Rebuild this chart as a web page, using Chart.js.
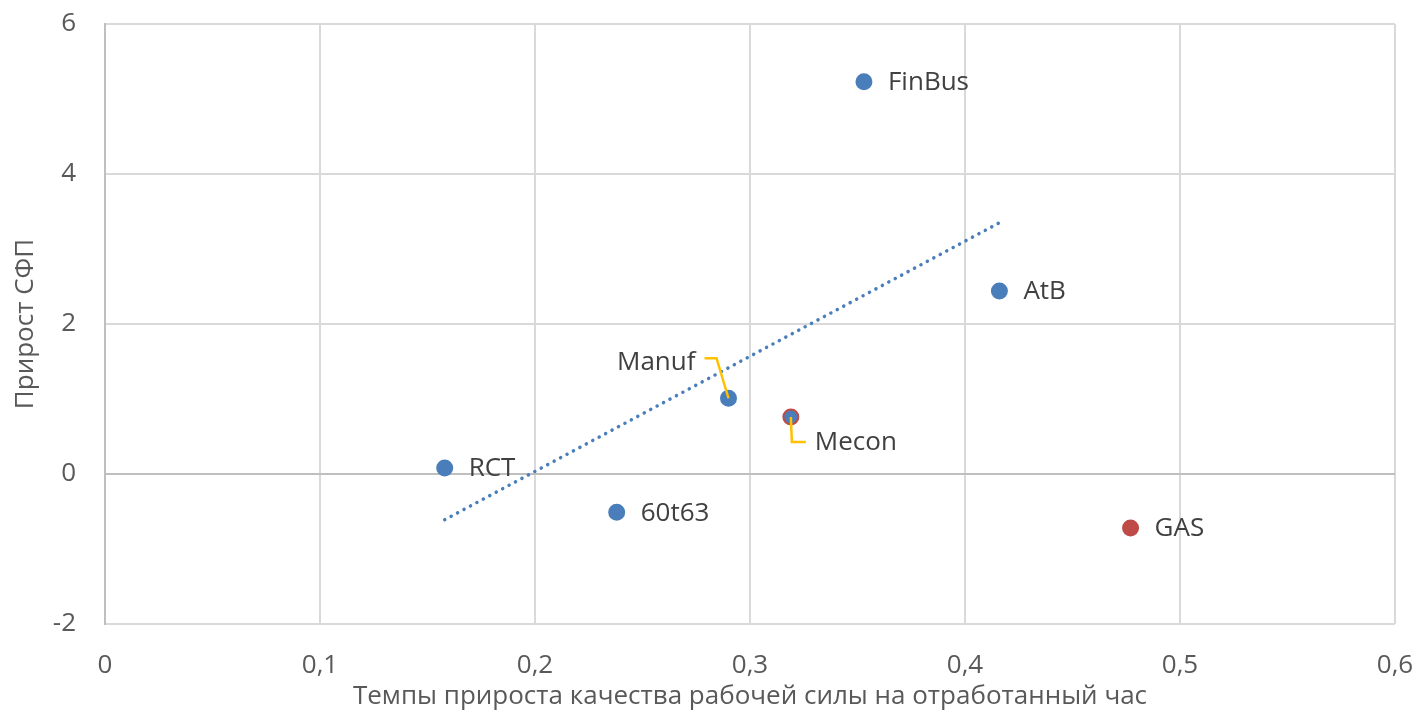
<!DOCTYPE html>
<html>
<head>
<meta charset="utf-8">
<script src="https://cdn.jsdelivr.net/npm/chart.js@4"></script>
<style>
  html, body { margin: 0; padding: 0; background: #fff; }
  #wrap { width: 1419px; height: 712px; }
</style>
</head>
<body>
<div id="wrap"><canvas id="chart"></canvas></div>
<script>
const names = ["FinBus", "AtB", "Manuf", "Mecon", "RCT", "60t63", "GAS"];
const xValues = [0.353, 0.416, 0.290, 0.319, 0.158, 0.238, 0.477];
const yValues = [5.23, 2.44, 1.01, 0.76, 0.08, -0.51, -0.72];
const trendX = [0.158, 0.416];
const trendY = [-0.61, 3.35];
const xTicks = [0, 0.1, 0.2, 0.3, 0.4, 0.5, 0.6];
const yTicks = [-2, 0, 2, 4, 6];

const blue = "#4a7ebb";
const red = "#be4b48";
const fillColors = [blue, blue, blue, blue, blue, blue, red];
const edgeColors = [blue, blue, blue, red, blue, blue, red];
const FONT = "'Open Sans', sans-serif";
const FSIZE = 26;

// label placement: default is right of the point, some have leader lines
const labelStyle = {
  Manuf: { dx: -33, dy: -36, align: "right", leader: [[-24, -40], [-12, -40], [0, 0]] },
  Mecon: { dx: 24, dy: 26, align: "left", leader: [[0, 0], [1, 25], [15, 25]] }
};

const labelPlugin = {
  id: "pointLabels",
  afterDatasetsDraw(chart) {
    const meta = chart.getDatasetMeta(1);
    const c = chart.ctx;
    c.save();
    c.font = FSIZE + "px " + FONT;
    c.textBaseline = "middle";
    meta.data.forEach((pt, i) => {
      const st = labelStyle[names[i]] || { dx: 24, dy: 1, align: "left" };
      if (st.leader) {
        c.strokeStyle = "#ffc000";
        c.lineWidth = 2.5;
        c.beginPath();
        st.leader.forEach((p, j) => {
          if (j === 0) c.moveTo(pt.x + p[0], pt.y + p[1]);
          else c.lineTo(pt.x + p[0], pt.y + p[1]);
        });
        c.stroke();
      }
      c.fillStyle = "#404040";
      c.textAlign = st.align;
      c.fillText(names[i], pt.x + st.dx, pt.y + st.dy);
    });
    c.restore();
  }
};

new Chart(document.getElementById("chart"), {
  type: "scatter",
  data: {
    datasets: [
      {
        type: "line",
        data: trendX.map((x, i) => ({ x: x, y: trendY[i] })),
        borderColor: blue,
        borderWidth: 3.5,
        borderDash: [0.1, 7.2],
        borderCapStyle: "round",
        pointRadius: 0,
        fill: false
      },
      {
        data: xValues.map((x, i) => ({ x: x, y: yValues[i] })),
        backgroundColor: fillColors,
        borderColor: edgeColors,
        borderWidth: 2,
        pointRadius: 7.5
      }
    ]
  },
  options: {
    responsive: true,
    maintainAspectRatio: false,
    animation: false,
    layout: { padding: { top: 24, right: 24, left: 6, bottom: 0 } },
    plugins: { legend: { display: false }, tooltip: { enabled: false } },
    scales: {
      x: {
        type: "linear",
        min: 0,
        max: 0.6,
        afterBuildTicks(s) { s.ticks = xTicks.map(v => ({ value: v })); },
        afterFit(s) {
          s.height = 88;
          s.paddingLeft = 0;
          s.paddingRight = 0;
        },
        grid: { color: "#d9d9d9", lineWidth: 2, drawTicks: false },
        border: { display: false },
        ticks: {
          padding: 26,
          color: "#595959",
          font: { family: FONT, size: FSIZE },
          callback: v => String(v).replace(".", ",")
        },
        title: {
          display: true,
          text: "Темпы прироста качества рабочей силы на отработанный час",
          color: "#595959",
          font: { family: FONT, size: FSIZE },
          padding: { top: 0, bottom: 0 }
        }
      },
      y: {
        min: -2,
        max: 6,
        afterBuildTicks(s) { s.ticks = yTicks.map(v => ({ value: v })); },
        afterFit(s) {
          s.width = 99;
          s.paddingTop = 0;
          s.paddingBottom = 0;
        },
        grid: {
          color: ctx => (ctx.tick && ctx.tick.value === 0 ? "#bfbfbf" : "#d9d9d9"),
          lineWidth: 2,
          drawTicks: false
        },
        border: { display: true, color: "#bfbfbf", width: 2 },
        ticks: {
          padding: 29,
          color: "#595959",
          font: { family: FONT, size: FSIZE }
        },
        title: {
          display: true,
          text: "Прирост СФП",
          color: "#595959",
          font: { family: FONT, size: FSIZE },
          padding: { bottom: 0 }
        }
      }
    }
  },
  plugins: [labelPlugin]
});
</script>
</body>
</html>
